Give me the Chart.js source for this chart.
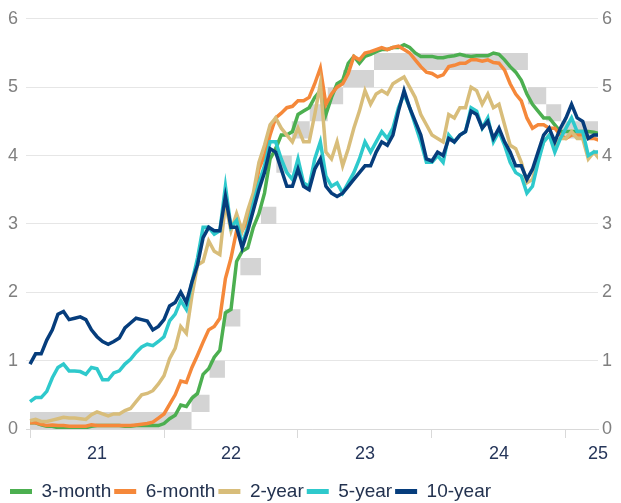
<!DOCTYPE html>
<html><head><meta charset="utf-8">
<script src="https://cdn.jsdelivr.net/npm/chart.js@4.4.1/dist/chart.umd.min.js"></script>
<style>html,body{margin:0;padding:0;background:#fff}canvas{display:block}</style>
</head><body>
<canvas id="c" width="621" height="503"></canvas>
<script>
// Semi-monthly observations starting Jan 2021 (24 per year)
const startYear = 2021;
const pointsPerYear = 24;

const T3 = [0.09,0.09,0.06,0.04,0.04,0.02,0.02,0.02,0.02,0.01,0.02,0.04,
 0.05,0.05,0.05,0.05,0.05,0.04,0.04,0.05,0.05,0.05,0.05,0.05,
 0.08,0.15,0.20,0.35,0.33,0.45,0.52,0.80,0.88,1.05,1.15,1.70,
 1.75,2.45,2.60,2.65,2.95,3.15,3.45,3.95,4.10,4.30,4.30,4.35,
 4.60,4.65,4.70,4.85,4.95,4.60,4.85,5.05,5.10,5.35,5.45,5.35,
 5.45,5.48,5.52,5.55,5.55,5.58,5.58,5.62,5.58,5.50,5.45,5.45,
 5.45,5.43,5.43,5.45,5.46,5.48,5.46,5.45,5.46,5.46,5.46,5.50,
 5.48,5.40,5.30,5.22,5.10,4.90,4.75,4.65,4.55,4.55,4.45,4.35,
 4.35,4.35,4.35,4.35,4.35,4.34,4.32];

const T6 = [0.09,0.09,0.07,0.05,0.06,0.05,0.05,0.04,0.04,0.04,0.04,0.06,
 0.05,0.05,0.05,0.05,0.05,0.05,0.05,0.06,0.07,0.08,0.10,0.16,
 0.22,0.36,0.50,0.70,0.68,0.90,1.08,1.27,1.45,1.50,1.62,2.20,
 2.50,2.90,2.90,3.05,3.35,3.80,4.00,4.30,4.55,4.62,4.70,4.72,
 4.80,4.80,4.85,5.05,5.28,4.75,4.90,5.00,5.05,5.20,5.45,5.40,
 5.50,5.52,5.55,5.58,5.55,5.58,5.60,5.55,5.50,5.40,5.30,5.22,
 5.20,5.15,5.18,5.30,5.32,5.35,5.35,5.40,5.40,5.38,5.40,5.36,
 5.35,5.25,5.05,4.90,4.80,4.55,4.40,4.45,4.45,4.40,4.40,4.30,
 4.25,4.30,4.30,4.30,4.25,4.25,4.22];

const T2 = [0.12,0.14,0.11,0.11,0.13,0.15,0.17,0.16,0.16,0.15,0.14,0.21,
 0.25,0.22,0.19,0.22,0.22,0.27,0.30,0.40,0.50,0.52,0.56,0.66,
 0.78,1.03,1.18,1.50,1.40,1.95,2.40,2.45,2.75,2.60,2.55,3.30,
 2.90,3.15,2.90,3.20,3.45,3.90,4.15,4.45,4.55,4.40,4.30,4.20,
 4.40,4.20,4.20,4.60,5.05,4.05,3.95,4.20,3.85,4.10,4.40,4.65,
 4.95,4.75,4.90,4.95,4.90,5.05,5.10,5.15,5.00,4.85,4.60,4.45,
 4.30,4.25,4.20,4.60,4.55,4.70,4.70,5.00,4.95,4.75,4.90,4.70,
 4.75,4.45,4.15,4.10,3.90,3.60,3.65,3.95,4.20,4.30,4.15,4.25,
 4.25,4.35,4.25,4.25,3.95,4.05,3.95];

const T5 = [0.40,0.46,0.46,0.55,0.75,0.90,0.95,0.85,0.85,0.84,0.80,0.90,
 0.88,0.72,0.72,0.82,0.85,0.95,1.02,1.12,1.20,1.24,1.22,1.28,
 1.35,1.58,1.68,1.88,1.75,2.15,2.50,2.95,2.95,2.85,2.90,3.55,
 2.95,3.05,2.70,2.95,3.30,3.60,3.85,4.20,4.20,3.95,3.75,3.65,
 3.95,3.60,3.55,3.95,4.20,3.70,3.55,3.60,3.45,3.60,3.75,3.95,
 4.20,4.05,4.20,4.35,4.25,4.40,4.70,4.90,4.70,4.45,4.20,3.90,
 3.90,4.00,3.90,4.30,4.20,4.30,4.35,4.70,4.65,4.40,4.55,4.20,
 4.35,4.15,3.90,3.75,3.70,3.45,3.55,3.90,4.20,4.30,4.05,4.25,
 4.40,4.55,4.35,4.35,4.00,4.05,4.05];

const T10 = [0.95,1.10,1.10,1.30,1.45,1.68,1.72,1.60,1.62,1.64,1.60,1.45,
 1.35,1.28,1.24,1.28,1.33,1.48,1.55,1.62,1.60,1.58,1.45,1.50,
 1.60,1.80,1.85,2.00,1.85,2.15,2.40,2.80,2.95,2.90,2.90,3.40,
 2.95,2.95,2.65,2.90,3.20,3.50,3.75,4.10,4.05,3.80,3.55,3.55,
 3.80,3.55,3.50,3.80,3.95,3.55,3.45,3.40,3.45,3.55,3.65,3.75,
 3.85,3.85,4.05,4.20,4.15,4.30,4.65,4.95,4.70,4.50,4.30,3.95,
 3.92,4.05,4.00,4.25,4.20,4.30,4.35,4.65,4.60,4.40,4.50,4.25,
 4.40,4.20,4.05,3.85,3.85,3.65,3.80,4.05,4.30,4.40,4.20,4.40,
 4.55,4.75,4.55,4.50,4.25,4.30,4.30];

const seriesNames = ['3-month','6-month','2-year','5-year','10-year'];
const seriesValues = [T3, T6, T2, T5, T10];
const seriesColors = ['#4caf50','#f5883a','#d8bd7a','#2ec9cc','#063d7c'];

// Fed funds target range (change dates)
const fedDates = ['2021-01-01','2022-03-17','2022-05-05','2022-06-16','2022-07-28','2022-09-22',
 '2022-11-03','2022-12-15','2023-02-02','2023-03-23','2023-05-04','2023-07-27',
 '2024-09-19','2024-11-08','2024-12-19','2025-03-31'];
const fedLower = [0,0.25,0.75,1.5,2.25,3.0,3.75,4.25,4.5,4.75,5.0,5.25,4.75,4.5,4.25,4.25];
const fedUpper = [0.25,0.5,1.0,1.75,2.5,3.25,4.0,4.5,4.75,5.0,5.25,5.5,5.0,4.75,4.5,4.5];

const yearTicks = [2021,2022,2023,2024,2025];
const yearLabelPos = [2021.5,2022.5,2023.5,2024.5,2025.239];
const yearLabels = ['21','22','23','24','25'];

const X_MIN = 2020.97, X_MAX = 2025.239;

function decYear(s){
  const d = new Date(s + 'T00:00:00Z');
  const y = d.getUTCFullYear();
  const a = Date.UTC(y,0,1), b = Date.UTC(y+1,0,1);
  return y + (d.getTime()-a)/(b-a);
}
const xOf = i => startYear + i/pointsPerYear;

const datasets = seriesNames.map((n, k) => ({
  label: n,
  data: seriesValues[k].map((v,i) => ({x: xOf(i), y: v})),
  borderColor: seriesColors[k],
  backgroundColor: seriesColors[k],
  borderWidth: 3.5,
  pointRadius: 0,
  tension: 0,
  fill: false,
  order: 5 - k
}));
datasets.push({
  label: 'Fed lower',
  data: fedDates.map((d,i) => ({x: decYear(d), y: fedLower[i]})),
  borderColor: 'rgba(0,0,0,0)', borderWidth: 0, pointRadius: 0,
  stepped: true, fill: false, order: 10
});
datasets.push({
  label: 'Fed upper',
  data: fedDates.map((d,i) => ({x: decYear(d), y: fedUpper[i]})),
  borderColor: 'rgba(0,0,0,0)', borderWidth: 0, pointRadius: 0,
  backgroundColor: '#d4d4d4',
  stepped: true, fill: '-1', order: 10
});

const FONT = "'Liberation Sans', Arial, sans-serif";

// nudge the legend row down toward the bottom edge
const legendShift = {
  id: 'legendShift',
  afterLayout(chart) {
    if (chart.legend) { chart.legend.top += 8; chart.legend.bottom += 8; }
  }
};

new Chart(document.getElementById('c'), {
  type: 'line',
  data: { datasets },
  plugins: [legendShift],
  options: {
    responsive: false,
    animation: false,
    devicePixelRatio: 1,
    layout: { padding: { top: 18, left: 7, right: 0, bottom: 0 } },
    plugins: {
      tooltip: { enabled: false },
      legend: {
        position: 'bottom',
        align: 'start',
        labels: {
          boxWidth: 22, boxHeight: 5, padding: 3,
          color: '#23324f',
          font: { family: FONT, size: 19 },
          filter: item => item.datasetIndex < 5,
          sort: (a, b) => a.datasetIndex - b.datasetIndex,
          generateLabels: chart => Chart.defaults.plugins.legend.labels.generateLabels(chart)
            .map(l => Object.assign(l, { lineWidth: 0 }))
        }
      }
    },
    scales: {
      x: {
        type: 'linear',
        min: X_MIN, max: X_MAX,
        afterBuildTicks: s => {
          s.ticks = yearTicks.concat(yearLabelPos).sort((a,b)=>a-b).map(v => ({value: v}));
        },
        afterFit: s => { s.height = 42; },
        ticks: {
          autoSkip: false, maxRotation: 0, padding: 5,
          color: '#26365a',
          font: { family: FONT, size: 18 },
          callback: v => {
            const j = yearLabelPos.findIndex(p => Math.abs(p - v) < 1e-6);
            return j >= 0 ? yearLabels[j] : '';
          }
        },
        grid: {
          drawOnChartArea: false,
          drawTicks: true,
          tickLength: 9,
          color: c => (c.tick && yearTicks.some(t => Math.abs(t - c.tick.value) < 1e-6)) ? '#d9d9d9' : 'rgba(0,0,0,0)'
        },
        border: { display: true, color: '#d9d9d9' }
      },
      y: {
        position: 'left',
        min: 0, max: 6,
        afterFit: s => { s.width = 19; },
        ticks: { stepSize: 1, padding: 8, color: '#808080', font: { family: FONT, size: 18 } },
        grid: { color: '#e6e6e6', drawTicks: false },
        border: { display: false }
      },
      y2: {
        position: 'right',
        min: 0, max: 6,
        afterFit: s => { s.width = 23; },
        ticks: { stepSize: 1, padding: 4, color: '#808080', font: { family: FONT, size: 18 } },
        grid: { drawOnChartArea: false, drawTicks: false },
        border: { display: false }
      }
    }
  }
});
</script>
</body></html>
